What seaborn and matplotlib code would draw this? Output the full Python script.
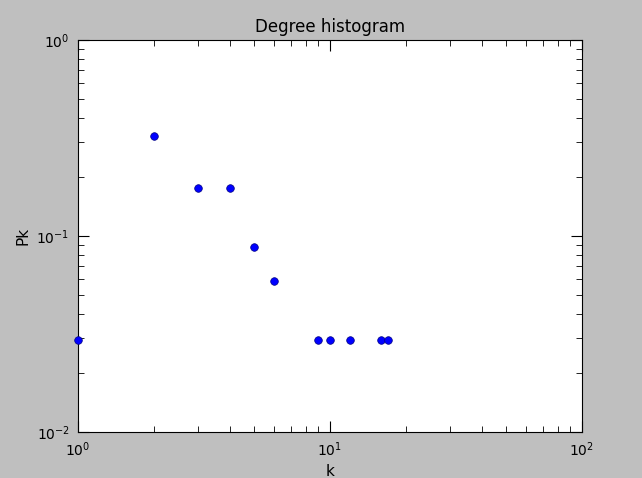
import matplotlib
matplotlib.use("Agg")
import matplotlib.pyplot as plt
import seaborn as sns
import pandas as pd

k = [1, 2, 3, 4, 5, 6, 9, 10, 12, 16, 17]
pk = [1/34, 11/34, 6/34, 6/34, 3/34, 2/34, 1/34, 1/34, 1/34, 1/34, 1/34]
df = pd.DataFrame({"k": k, "Pk": pk})

plt.rcParams.update({
    "font.family": "DejaVu Sans",
    "xtick.direction": "in", "ytick.direction": "in",
    "xtick.top": True, "ytick.right": True,
    "xtick.major.size": 8, "ytick.major.size": 8,
    "xtick.minor.size": 4, "ytick.minor.size": 4,
    "xtick.major.pad": 6, "ytick.major.pad": 6,
})
fig = plt.figure(figsize=(6.42, 4.78), dpi=100, facecolor="#bfbfbf")
ax = fig.add_axes([78/642, 1-432/478, 504/642, 392/478])
sns.scatterplot(data=df, x="k", y="Pk", ax=ax, color="#0000ff", edgecolor="#000080",
                s=30, linewidth=0.5, clip_on=False, zorder=3)
ax.set_xscale("log"); ax.set_yscale("log")
ax.set_xlim(1, 100); ax.set_ylim(0.01, 1)
ax.set_title("Degree histogram", fontsize=12)
ax.set_xlabel("k", fontsize=11); ax.set_ylabel("Pk", fontsize=11)
ax.tick_params(labelsize=10)
fig.savefig("out.png", dpi=100, facecolor=fig.get_facecolor())
